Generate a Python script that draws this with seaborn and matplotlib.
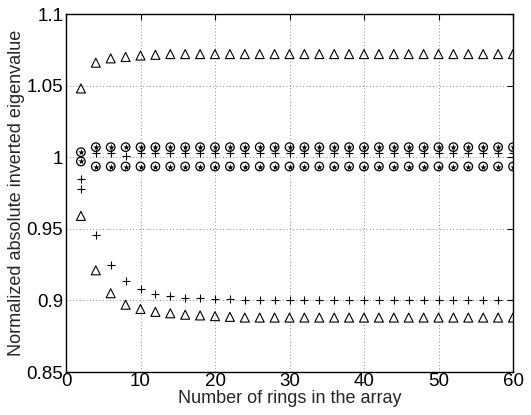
import matplotlib
matplotlib.use("Agg")
import matplotlib.pyplot as plt
import seaborn as sns
import pandas as pd

rings = [2, 4, 6, 8, 10, 12, 14, 16, 18, 20, 22, 24, 26, 28, 30,
         32, 34, 36, 38, 40, 42, 44, 46, 48, 50, 52, 54, 56, 58, 60]

tri_upper = [1.048, 1.066, 1.069, 1.070, 1.071, 1.0715, 1.072, 1.072, 1.072, 1.072,
             1.072, 1.072, 1.072, 1.072, 1.072, 1.072, 1.072, 1.072, 1.072, 1.072,
             1.072, 1.072, 1.072, 1.072, 1.072, 1.072, 1.072, 1.072, 1.072, 1.072]
tri_lower = [0.959, 0.921, 0.905, 0.897, 0.894, 0.892, 0.891, 0.890, 0.8895, 0.889,
             0.8885, 0.888, 0.888, 0.888, 0.888, 0.888, 0.888, 0.888, 0.888, 0.888,
             0.888, 0.888, 0.888, 0.888, 0.888, 0.888, 0.888, 0.888, 0.888, 0.888]
plus_lower = [0.978, 0.9455, 0.9245, 0.9135, 0.908, 0.9045, 0.903, 0.902, 0.9015, 0.901,
              0.9007, 0.9005, 0.9003, 0.900, 0.900, 0.900, 0.900, 0.900, 0.900, 0.900,
              0.900, 0.900, 0.900, 0.900, 0.900, 0.900, 0.900, 0.900, 0.900, 0.900]
plus_upper = [0.985, 1.003, 1.003, 1.001, 1.003, 1.003, 1.003, 1.003, 1.003, 1.003,
              1.003, 1.003, 1.003, 1.003, 1.003, 1.003, 1.003, 1.003, 1.003, 1.003,
              1.003, 1.003, 1.003, 1.003, 1.003, 1.003, 1.003, 1.003, 1.003, 1.003]
circ_upper = [1.0035, 1.007, 1.007, 1.007, 1.007, 1.007, 1.007, 1.007, 1.007, 1.007,
              1.007, 1.007, 1.007, 1.007, 1.007, 1.007, 1.007, 1.007, 1.007, 1.007,
              1.007, 1.007, 1.007, 1.007, 1.007, 1.007, 1.007, 1.007, 1.007, 1.007]
circ_lower = [0.997, 0.9935, 0.9935, 0.9935, 0.9935, 0.9935, 0.9935, 0.9935, 0.9935, 0.9935,
              0.9935, 0.9935, 0.9935, 0.9935, 0.9935, 0.9935, 0.9935, 0.9935, 0.9935, 0.9935,
              0.9935, 0.9935, 0.9935, 0.9935, 0.9935, 0.9935, 0.9935, 0.9935, 0.9935, 0.9935]

x_ticks = [0, 10, 20, 30, 40, 50, 60]
y_ticks = [0.85, 0.9, 0.95, 1.0, 1.05, 1.1]
y_labels = ["0.85", "0.9", "0.95", "1", "1.05", "1.1"]

sns.set_style("white")
plt.rcParams["font.family"] = ["Liberation Sans", "DejaVu Sans"]

fig = plt.figure(figsize=(5.31, 4.15), dpi=100)
ax = fig.add_axes([66/531, 1 - 372/415, (513-66)/531, (372-14)/415])

def df(y):
    return pd.DataFrame({"x": rings, "y": y})

for ys in (tri_upper, tri_lower):
    sns.scatterplot(data=df(ys), x="x", y="y", marker="^", s=42,
                    facecolors="none", edgecolor="black", linewidth=0.8, ax=ax, zorder=3)
for ys in (plus_lower, plus_upper):
    sns.scatterplot(data=df(ys), x="x", y="y", marker="+", s=28,
                    color="black", linewidth=0.8, ax=ax, zorder=3)
for ys in (circ_upper, circ_lower):
    sns.scatterplot(data=df(ys), x="x", y="y", marker="o", s=38,
                    facecolors="none", edgecolor="black", linewidth=0.9, ax=ax, zorder=3)
    sns.scatterplot(data=df(ys), x="x", y="y", marker="*", s=24,
                    color="black", linewidth=0, ax=ax, zorder=4)

ax.set_xlim(0, 60)
ax.set_ylim(0.85, 1.1)
ax.set_xticks(x_ticks)
ax.set_xticklabels([str(t) for t in x_ticks])
ax.set_yticks(y_ticks)
ax.set_yticklabels(y_labels)
ax.grid(True, linestyle=(0, (1, 3)), color="black", linewidth=0.6, alpha=0.6)
ax.tick_params(direction="in", length=4, width=0.8, top=True, right=True,
               labelsize=13.5, colors="black")
ax.tick_params(axis="x", pad=1)
ax.tick_params(axis="y", pad=2)
for sp in ax.spines.values():
    sp.set_visible(True)
    sp.set_color("black")
    sp.set_linewidth(1.0)
ax.set_xlabel("Number of rings in the array", fontsize=13, labelpad=0)
ax.set_ylabel("Normalized absolute inverted eigenvalue", fontsize=13, labelpad=1)

fig.savefig("out.png", dpi=100)
